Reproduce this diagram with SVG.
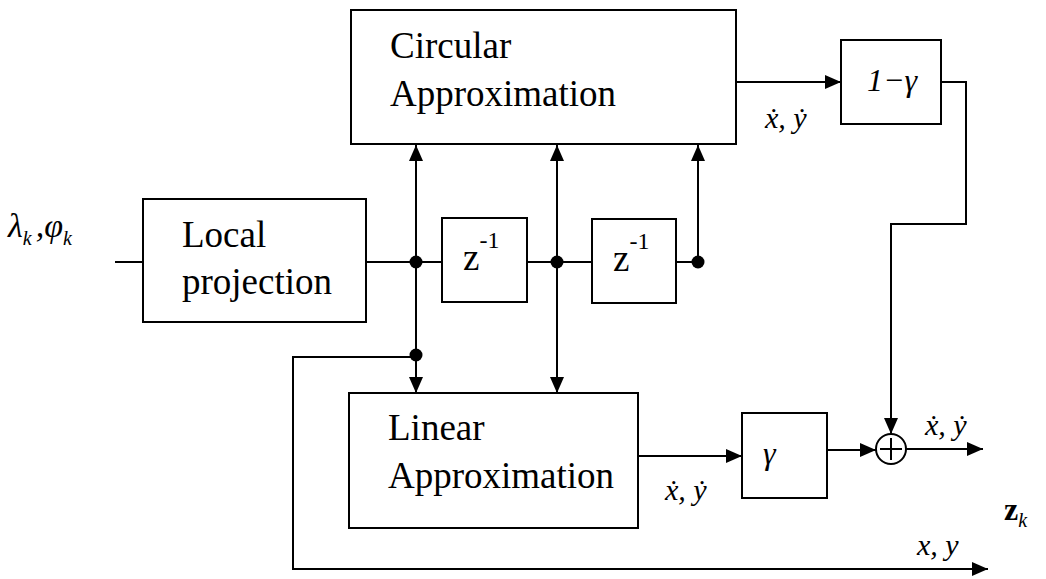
<svg xmlns="http://www.w3.org/2000/svg" width="1046" height="579" viewBox="0 0 1046 579">
<style>
.box{fill:#fff;stroke:#000;stroke-width:2}
.ln{fill:none;stroke:#000;stroke-width:2}
.t{font-family:'Liberation Serif','Tinos','DejaVu Serif',serif;font-size:37px;fill:#000}
.m{font-family:'Liberation Serif','Tinos','DejaVu Serif',serif;font-style:italic;fill:#000}
.b{font-family:'Liberation Serif','Tinos','DejaVu Serif',serif;font-weight:bold;fill:#000}
</style>
<defs>
<marker id="ah" viewBox="0 0 16 14" refX="16" refY="7" markerWidth="16" markerHeight="14" markerUnits="userSpaceOnUse" orient="auto">
<path d="M0,0 L16,7 L0,14 z" fill="#000"/>
</marker>
</defs>
<g id="connectors">
<path class="ln" d="M115,262 H143"/>
<path class="ln" d="M366,262 H442"/>
<path class="ln" d="M527,262 H592"/>
<path class="ln" d="M676,262 H698"/>
<path class="ln" d="M416,262 V145" marker-end="url(#ah)"/>
<path class="ln" d="M557,262 V145" marker-end="url(#ah)"/>
<path class="ln" d="M698,262 V145" marker-end="url(#ah)"/>
<path class="ln" d="M416,262 V393" marker-end="url(#ah)"/>
<path class="ln" d="M557,262 V393" marker-end="url(#ah)"/>
<path class="ln" d="M416,357 H293 V569 H988" marker-end="url(#ah)"/>
<path class="ln" d="M736,82 H841" marker-end="url(#ah)"/>
<path class="ln" d="M941,82 H966 V224 H891 V434" marker-end="url(#ah)"/>
<path class="ln" d="M638,456 H742" marker-end="url(#ah)"/>
<path class="ln" d="M827,450 H876" marker-end="url(#ah)"/>
<path class="ln" d="M906,449 H983" marker-end="url(#ah)"/>
<circle cx="416" cy="262" r="6.5"/>
<circle cx="557" cy="262" r="6.5"/>
<circle cx="698" cy="262" r="6.5"/>
<circle cx="416" cy="355" r="6.5"/>
</g>
<g id="input-label">
<text class="m" x="8" y="237" font-size="34">λ<tspan font-size="20" dy="8">k</tspan><tspan dy="-8" dx="4">,φ</tspan><tspan font-size="20" dy="8">k</tspan></text>
</g>
<g id="local-projection">
<rect class="box" x="143" y="199" width="223" height="123"/>
<text class="t" x="182" y="247">Local</text>
<text class="t" x="182" y="294">projection</text>
</g>
<g id="circular">
<rect class="box" x="351" y="10" width="385" height="134"/>
<text class="t" x="390" y="58">Circular</text>
<text class="t" x="390" y="106">Approximation</text>
</g>
<g id="delay1">
<rect class="box" x="442" y="218" width="85" height="84"/>
<text class="t" x="463" y="270">z<tspan font-size="24" dy="-22">-1</tspan></text>
</g>
<g id="delay2">
<rect class="box" x="592" y="219" width="84" height="84"/>
<text class="t" x="613" y="271">z<tspan font-size="24" dy="-22">-1</tspan></text>
</g>
<g id="one-minus-gamma">
<rect class="box" x="841" y="40" width="100" height="84"/>
<text class="m" x="867" y="91" font-size="32">1−γ</text>
</g>
<g id="linear">
<rect class="box" x="349" y="393" width="289" height="135"/>
<text class="t" x="388" y="440">Linear</text>
<text class="t" x="388" y="488">Approximation</text>
</g>
<g id="gamma">
<rect class="box" x="742" y="413" width="85" height="85"/>
<text class="m" x="763" y="464" font-size="32">γ</text>
</g>
<g id="sum">
<circle cx="891" cy="449" r="15" fill="#fff" stroke="#000" stroke-width="2"/>
<path class="ln" d="M880,449 H902 M891,438 V460"/>
</g>
<g id="labels">
<text class="m" x="765" y="128" font-size="30">ẋ, ẏ</text>
<text class="m" x="665" y="500" font-size="30">ẋ, ẏ</text>
<text class="m" x="925" y="435" font-size="30">ẋ, ẏ</text>
<text class="m" x="917" y="555" font-size="30">x, y</text>
<text class="b" x="1004" y="520" font-size="32">z<tspan font-style="italic" font-weight="normal" font-size="20" dy="7">k</tspan></text>
</g>
</svg>
